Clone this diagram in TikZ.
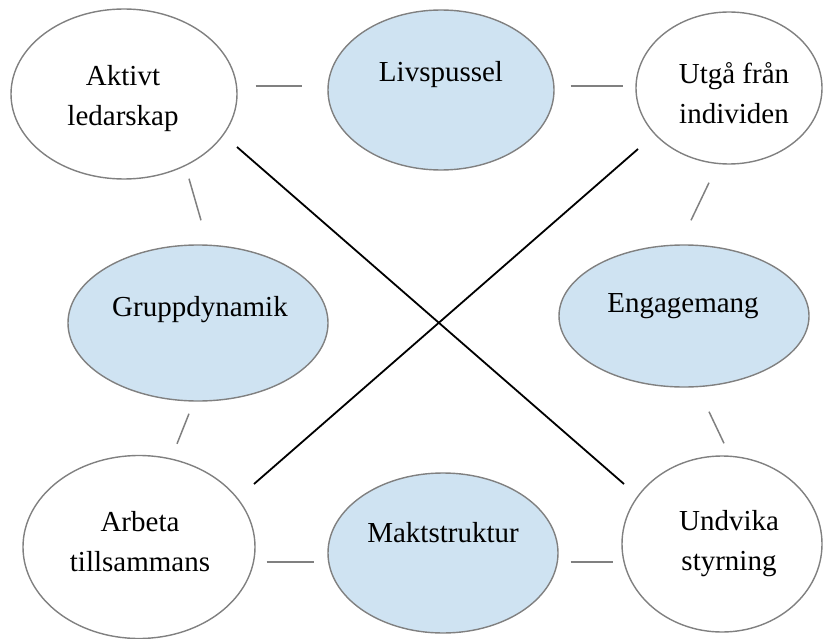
\documentclass[tikz,border=0pt]{standalone}
\usepackage{fontspec}
\setmainfont{Liberation Serif}
\usetikzlibrary{shapes.geometric,calc}
\definecolor{ovalblue}{RGB}{207,227,242}
\definecolor{rimgray}{RGB}{128,128,128}

\begin{document}
\begin{tikzpicture}[x=1pt, y=-1pt,
    oval/.style={ellipse, draw=rimgray, line width=1.4pt, inner sep=0pt},
    plain/.style={oval, fill=white},
    tinted/.style={oval, fill=ovalblue},
    words/.style={font=\fontsize{29}{40}\selectfont, align=center, inner sep=0pt},
    link/.style={rimgray, line width=1.5pt},
    cross/.style={black, line width=1.8pt}]
    % Canvas
    \useasboundingbox (0,0) rectangle (824,639);

    % Ovals, top row
    \node[plain, minimum width=226pt, minimum height=170pt] (aktivt) at (124,94) {};
    \node[tinted, minimum width=226pt, minimum height=160pt] (livs) at (441,90) {};
    \node[plain, minimum width=186pt, minimum height=152pt] (utga) at (729,88) {};

    % Ovals, middle row
    \node[tinted, minimum width=260pt, minimum height=156pt] (grupp) at (198,323) {};
    \node[tinted, minimum width=250pt, minimum height=142pt] (engag) at (684,316) {};

    % Ovals, bottom row
    \node[plain, minimum width=232pt, minimum height=183pt] (arbeta) at (139,547) {};
    \node[tinted, minimum width=230pt, minimum height=160pt] (makt) at (443,553) {};
    \node[plain, minimum width=200pt, minimum height=176pt] (undvika) at (722,544) {};

    % Texts
    \node[words] (aktivt-txt) at (123,99) {Aktivt\\ledarskap};
    \node[words] (livs-txt) at (441,75) {Livspussel};
    \node[words] (utga-txt) at (734,93) {Utgå från\\individen};
    \node[words] (grupp-txt) at (200,310) {Gruppdynamik};
    \node[words] (engag-txt) at (683,306) {Engagemang};
    \node[words] (arbeta-txt) at (140,542) {Arbeta\\tillsammans};
    \node[words] (makt-txt) at (443,533) {Maktstruktur};
    \node[words] (undvika-txt) at (729,544) {Undvika\\styrning};

    % Short gray links round the ring
    \draw[link] ([xshift=18pt,yshift=8pt]aktivt.east) -- ([xshift=-25pt,yshift=4pt]livs.west);
    \draw[link] ([xshift=16pt,yshift=4pt]livs.east) -- ([xshift=-12pt,yshift=2pt]utga.west);
    \draw[link] ([xshift=65pt,yshift=1pt]aktivt.south) -- ([xshift=3pt,yshift=24pt]grupp.north);
    \draw[link] ([xshift=-20pt,yshift=-18pt]utga.south) -- ([xshift=7pt,yshift=24pt]engag.north);
    \draw[link] ([xshift=-9pt,yshift=-12pt]grupp.south) -- ([xshift=38pt,yshift=11pt]arbeta.north);
    \draw[link] ([xshift=25pt,yshift=-24pt]engag.south) -- ([xshift=2pt,yshift=12pt]undvika.north);
    \draw[link] ([xshift=11pt,yshift=-15pt]arbeta.east) -- ([xshift=-13pt,yshift=-9pt]makt.west);
    \draw[link] ([xshift=12pt,yshift=-9pt]makt.east) -- ([xshift=-8pt,yshift=-18pt]undvika.west);

    % The big cross
    \draw[cross] ([xshift=113pt,yshift=-53pt]aktivt.center) -- ([xshift=-98pt,yshift=60pt]undvika.center);
    \draw[cross] ([xshift=-91pt,yshift=-61pt]utga.center) -- ([xshift=115pt,yshift=63pt]arbeta.center);
\end{tikzpicture}
\end{document}
